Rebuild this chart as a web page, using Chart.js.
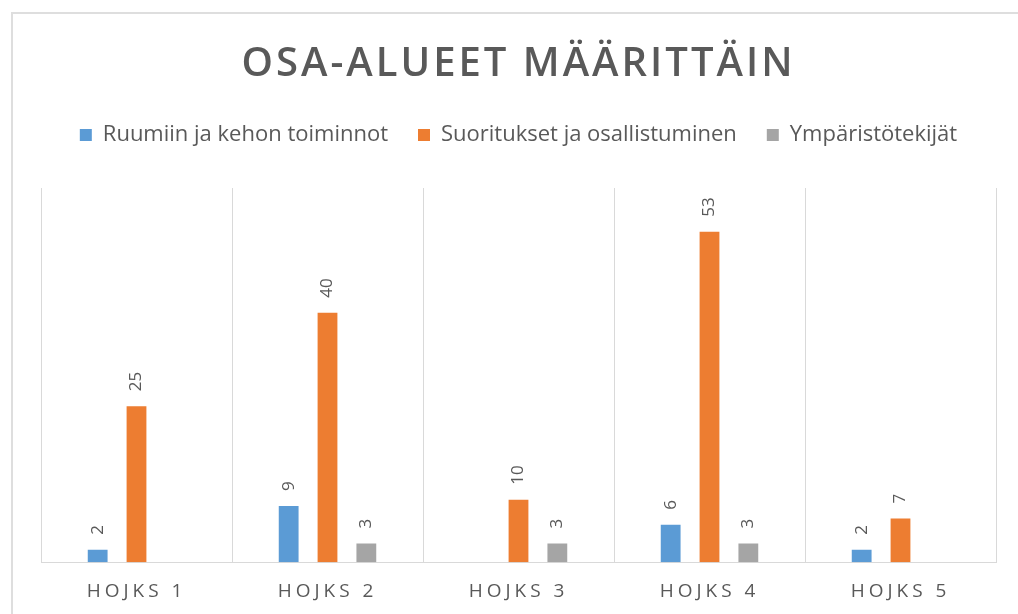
<!DOCTYPE html>
<html>
<head>
<meta charset="utf-8">
<script src="https://cdn.jsdelivr.net/npm/chart.js@4.4.0/dist/chart.umd.min.js"></script>
<style>
  html, body { margin: 0; padding: 0; background: #fff; }
  #wrap { position: relative; width: 1018px; height: 614px; }
  #frame { position: absolute; left: 11px; top: 12px; right: 0; bottom: 0;
           border-left: 2px solid #dedede; border-top: 2px solid #dedede; }
  canvas { position: absolute; left: 0; top: 0; }
</style>
</head>
<body>
<div id="wrap">
  <div id="frame"></div>
  <canvas id="chart" width="1018" height="614"></canvas>
</div>
<script>
const categories = ['HOJKS 1', 'HOJKS 2', 'HOJKS 3', 'HOJKS 4', 'HOJKS 5'];
const seriesNames = ['Ruumiin ja kehon toiminnot', 'Suoritukset ja osallistuminen', 'Ympäristötekijät'];
const ruumiinValues = [2, 9, null, 6, 2];
const suorituksetValues = [25, 40, 10, 53, 7];
const ymparistoValues = [null, 3, 3, 3, null];
const seriesColors = ['#5B9BD5', '#ED7D31', '#A5A5A5'];

const textColor = '#595959';
const fontFamily = '"Open Sans", sans-serif';

// category axis with letter-spaced labels
class SpacedCategoryScale extends Chart.CategoryScale {
    drawLabels(chartArea) {
        const ctx = this.ctx;
        ctx.save();
        ctx.letterSpacing = '4px';
        super.drawLabels(chartArea);
        ctx.restore();
    }
}
SpacedCategoryScale.id = 'spacedCategory';
SpacedCategoryScale.defaults = Chart.CategoryScale.defaults;
Chart.register(SpacedCategoryScale);

// rotated value labels above the bars
const barValueLabels = {
    id: 'barValueLabels',
    afterDatasetsDraw(chart) {
        const ctx = chart.ctx;
        ctx.save();
        ctx.fillStyle = textColor;
        ctx.font = '17px ' + fontFamily;
        ctx.textAlign = 'left';
        ctx.textBaseline = 'middle';
        chart.data.datasets.forEach(function (ds, i) {
            const meta = chart.getDatasetMeta(i);
            meta.data.forEach(function (bar, j) {
                const v = ds.data[j];
                if (v === null || v === undefined) return;
                ctx.save();
                ctx.translate(bar.x, bar.y - 15);
                ctx.rotate(-Math.PI / 2);
                ctx.fillText(String(v), 0, 0);
                ctx.restore();
            });
        });
        ctx.restore();
    }
};

// letter-spaced title and extra room under the legend
const blockTweaks = {
    id: 'blockTweaks',
    beforeInit(chart) {
        const origFit = chart.legend.fit;
        chart.legend.fit = function () {
            origFit.call(this);
            this.height += 32;
        };
        const origDraw = chart.titleBlock.draw;
        chart.titleBlock.draw = function () {
            this.ctx.save();
            this.ctx.letterSpacing = '3px';
            origDraw.call(this);
            this.ctx.restore();
        };
    }
};

const ctx = document.getElementById('chart').getContext('2d');
new Chart(ctx, {
    type: 'bar',
    data: {
        labels: categories,
        datasets: [
            { label: seriesNames[0], data: ruumiinValues, backgroundColor: seriesColors[0] },
            { label: seriesNames[1], data: suorituksetValues, backgroundColor: seriesColors[1] },
            { label: seriesNames[2], data: ymparistoValues, backgroundColor: seriesColors[2] }
        ]
    },
    options: {
        responsive: false,
        animation: false,
        categoryPercentage: 0.61,
        barPercentage: 0.51,
        layout: { padding: { left: 41, right: 22, top: 0, bottom: -7 } },
        plugins: {
            tooltip: { enabled: false },
            title: {
                display: true,
                text: 'OSA-ALUEET MÄÄRITTÄIN',
                color: textColor,
                font: { family: fontFamily, size: 40, weight: '600' },
                padding: { top: 41, bottom: 5 }
            },
            legend: {
                position: 'top',
                labels: {
                    color: textColor,
                    font: { family: fontFamily, size: 22 },
                    boxWidth: 12,
                    boxHeight: 12,
                    padding: 30
                }
            }
        },
        scales: {
            x: {
                type: 'spacedCategory',
                grid: { color: '#d9d9d9', drawTicks: false, offset: true },
                border: { color: '#d9d9d9' },
                ticks: { color: textColor, font: { family: fontFamily, size: 19 }, padding: 18 }
            },
            y: {
                display: false,
                min: 0,
                max: 60
            }
        }
    },
    plugins: [barValueLabels, blockTweaks]
});
</script>
</body>
</html>
